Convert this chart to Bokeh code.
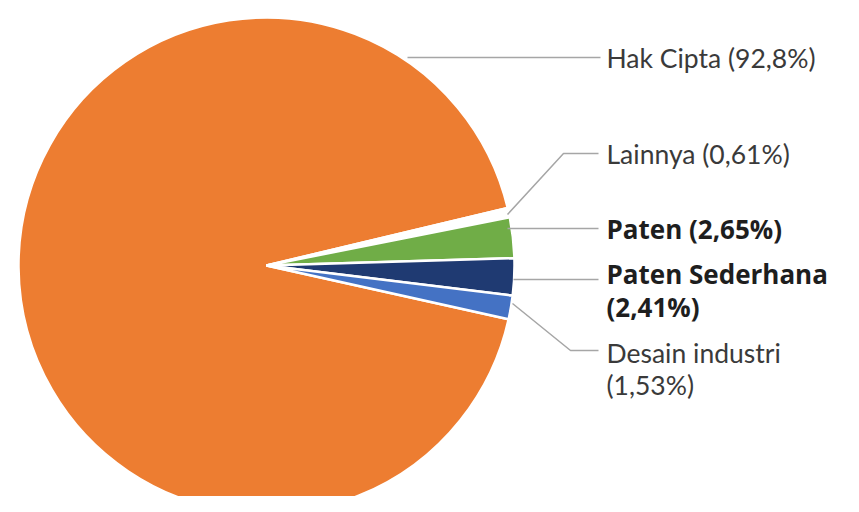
import math
from bokeh.plotting import figure
from bokeh.models import Range1d, ColumnDataSource
from bokeh.core.properties import value
from bokeh.embed import file_html
from bokeh.resources import INLINE

# ---- data ----
categories = ["Hak Cipta", "Lainnya", "Paten", "Paten Sederhana", "Desain industri"]
shares = [92.8, 0.61, 2.65, 2.41, 1.53]
colors = ["#ED7D31", "#FFFFFF", "#70AD47", "#1F3A72", "#4472C4"]
label_lines = [["Hak Cipta (92,8%)"], ["Lainnya (0,61%)"], ["Paten (2,65%)"],
               ["Paten Sederhana", "(2,41%)"], ["Desain industri", "(1,53%)"]]
label_bold = [False, False, True, True, False]

# ---- layout (screen pixel coordinates) ----
W, H = 843, 496
def sy(y):
    return H - y

cx, cy, r = 266, 265, 248
start_deg = -12.5

# leader lines (screen coords)
leaders = [
    [(407, 57), (600, 57)],
    [(507, 214), (563, 153), (598, 153)],
    [(507, 228), (598, 228)],
    [(513, 279), (598, 279)],
    [(512, 303), (570, 350), (598, 350)],
]
label_x = 606
label_y = [[57], [153], [228], [273, 306], [352, 384]]

p = figure(width=W, height=H, x_range=Range1d(0, W), y_range=Range1d(0, H),
           output_backend="svg", toolbar_location=None, min_border=0)
p.axis.visible = False
p.grid.visible = False
p.outline_line_color = None
p.background_fill_color = "white"
p.border_fill_color = "white"

# wedges: go anticlockwise from the last category back to the first
total = sum(shares)
a = math.radians(start_deg)
angles = {}
for i in reversed(range(len(shares))):
    span = 2 * math.pi * shares[i] / total
    angles[i] = (a, a + span)
    a += span
src = ColumnDataSource(dict(
    x=[cx] * len(shares), y=[sy(cy)] * len(shares),
    start=[angles[i][0] for i in range(len(shares))],
    end=[angles[i][1] for i in range(len(shares))],
    color=colors,
))
p.wedge(x="x", y="y", radius=r, start_angle="start", end_angle="end",
        direction="anticlock", fill_color="color", line_color="white",
        line_width=2.5, source=src)

for pts in leaders:
    p.line([q[0] for q in pts], [sy(q[1]) for q in pts], line_color="#A6A6A6",
           line_width=1.5)

for lines, ys, bold in zip(label_lines, label_y, label_bold):
    p.text(x=[label_x] * len(lines), y=[sy(v) for v in ys], text=lines,
           text_font=value("Open Sans" if bold else "Lato"),
           text_font_size="26px" if bold else "26.5px",
           text_font_style="bold" if bold else "normal",
           text_color="#1E1E1E" if bold else "#3A3A3A",
           text_align="left", text_baseline="middle")

open("out.html", "w").write(file_html(p, INLINE))
